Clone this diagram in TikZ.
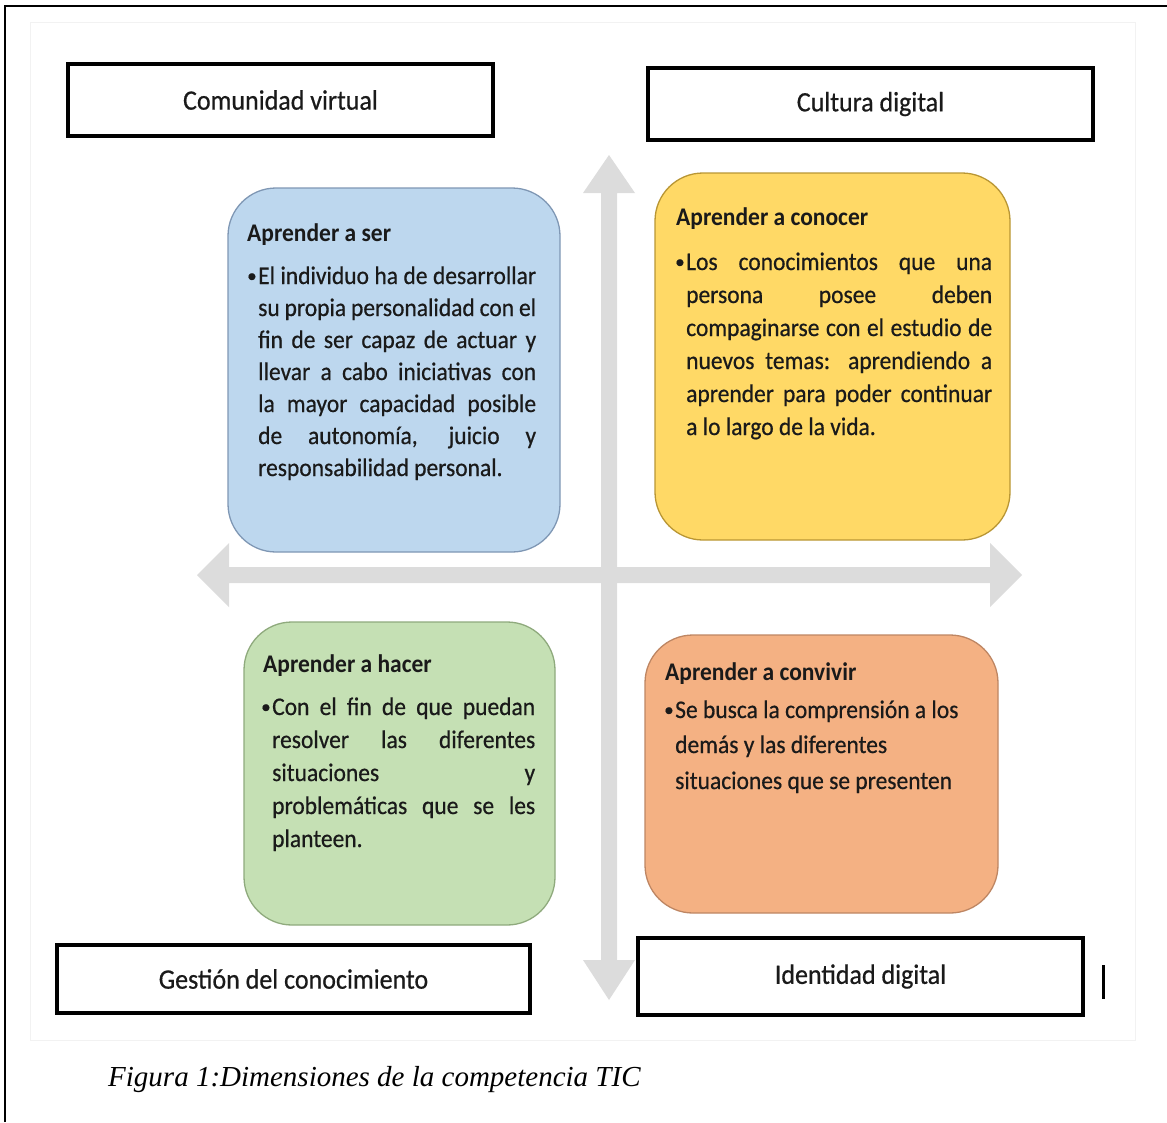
\documentclass[tikz,border=0pt]{standalone}
\usepackage{fontspec}
\setmainfont{Carlito}
\newfontfamily\bodyfont{Carlito}[RawFeature={embolden=0.6}]
\newfontfamily\capfont{Liberation Serif}
\definecolor{cblue}{HTML}{BDD7EE}
\definecolor{bblue}{HTML}{7F97B4}
\definecolor{cyel}{HTML}{FFD966}
\definecolor{byel}{HTML}{B99634}
\definecolor{cgreen}{HTML}{C5E0B4}
\definecolor{bgreen}{HTML}{8FAA7D}
\definecolor{corange}{HTML}{F4B183}
\definecolor{borange}{HTML}{BE8663}
\definecolor{arrowgray}{HTML}{DCDCDC}
\definecolor{txt}{HTML}{1A1A1A}
\newcommand\tall[1]{\scalebox{1}[1.08]{#1}}
\newcommand\jl[2]{\tall{\makebox[#1][s]{#2}}}
\tikzset{
  labelbox/.style={draw=black, line width=4.5pt, fill=white, inner sep=0pt,
    font=\bodyfont\fontsize{26}{30}\selectfont, text=txt},
  rbox/.style={rounded corners=48pt, line width=1.3pt, inner sep=0pt},
  body/.style={font=\bodyfont\fontsize{23.5}{28}\selectfont, inner sep=0pt, text=txt, anchor=base west},
  bul/.style={font=\bodyfont\fontsize{19}{24}\selectfont, inner sep=0pt, text=txt, anchor=base west},
  ttl/.style={font=\bfseries\fontsize{23.5}{28}\selectfont, inner sep=0pt, text=txt, anchor=base west},
}
\begin{document}
\begin{tikzpicture}[x=1pt,y=-1pt]
\useasboundingbox (0,0) rectangle (1167,1122);
% faint screenshot edge
\draw[black!5, line width=0.8pt] (30,22) rectangle (1135,1040);
% outer frame
\draw[line width=2.5pt] (5,1122) -- (5,6) -- (1167,6);

% axes
\fill[arrowgray] (609,155) -- (635,193) -- (617,193) -- (617,960) -- (635,960)
  -- (609,1000) -- (583,960) -- (601,960) -- (601,193) -- (583,193) -- cycle;
\fill[arrowgray] (197,575) -- (229,543) -- (229,567) -- (990,567) -- (990,543)
  -- (1022,575) -- (990,607) -- (990,583) -- (229,583) -- (229,607) -- cycle;

% label boxes
\node[labelbox, minimum width=425pt, minimum height=72pt] (cv) at (280.5,100) {\tall{Comunidad virtual}};
\node[labelbox, minimum width=445pt, minimum height=72pt] (cd) at (870.5,104) {\tall{Cultura digital}};
\node[labelbox, minimum width=473pt, minimum height=68pt] (gc) at (293.5,979) {\tall{Gestión del conocimiento}};
\node[labelbox, minimum width=445pt, minimum height=77pt] (id) at (860.5,976.5) {\tall{Identidad digital}};
\fill[black] (1101.5,965) rectangle (1104.5,999);

% rounded boxes
\node[rbox, draw=bblue, fill=cblue, minimum width=332pt, minimum height=364pt] (ser) at (394,370) {};
\node[rbox, draw=byel, fill=cyel, minimum width=355pt, minimum height=367pt] (con) at (832.5,356.5) {};
\node[rbox, draw=bgreen, fill=cgreen, minimum width=311pt, minimum height=303pt] (hac) at (399.5,773.5) {};
\node[rbox, draw=borange, fill=corange, minimum width=353pt, minimum height=278pt] (conv) at (821.5,774) {};

% Aprender a ser
\node[ttl] (sert) at (247,241) {\tall{Aprender a ser}};
\node[bul] (serb) at (247,282) {•};
\node[body] (ser1) at (258,284) {\jl{278pt}{El individuo ha de desarrollar}};
\node[body] (ser2) at (258,316) {\jl{278pt}{su propia personalidad con el}};
\node[body] (ser3) at (258,348) {\jl{278pt}{fin de ser capaz de actuar y}};
\node[body] (ser4) at (258,380) {\jl{278pt}{llevar a cabo iniciativas con}};
\node[body] (ser5) at (258,412) {\jl{278pt}{la mayor capacidad posible}};
\node[body] (ser6) at (258,444) {\jl{278pt}{de autonomía, juicio y}};
\node[body] (ser7) at (258,476) {\tall{responsabilidad personal.}};

% Aprender a conocer
\node[ttl] (cont) at (676,225) {\tall{Aprender a conocer}};
\node[bul] (conb) at (675,268) {•};
\node[body] (con1) at (686,270) {\jl{306pt}{Los conocimientos que una}};
\node[body] (con2) at (686,303) {\jl{306pt}{persona posee deben}};
\node[body] (con3) at (686,336) {\jl{306pt}{compaginarse con el estudio de}};
\node[body] (con4) at (686,369) {\jl{306pt}{nuevos temas: aprendiendo a}};
\node[body] (con5) at (686,402) {\jl{306pt}{aprender para poder continuar}};
\node[body] (con6) at (686,435) {\tall{a lo largo de la vida.}};

% Aprender a hacer
\node[ttl] (hact) at (263,672) {\tall{Aprender a hacer}};
\node[bul] (hacb) at (261,713) {•};
\node[body] (hac1) at (272,715) {\jl{263pt}{Con el fin de que puedan}};
\node[body] (hac2) at (272,748) {\jl{263pt}{resolver las diferentes}};
\node[body] (hac3) at (272,781) {\jl{263pt}{situaciones y}};
\node[body] (hac4) at (272,814) {\jl{263pt}{problemáticas que se les}};
\node[body] (hac5) at (272,847) {\tall{planteen.}};

% Aprender a convivir
\node[ttl] (convt) at (665,680) {\tall{Aprender a convivir}};
\node[bul] (convb) at (664,716) {•};
\node[body] (conv1) at (675,718) {\tall{Se busca la comprensión a los}};
\node[body] (conv2) at (675,753) {\tall{demás y las diferentes}};
\node[body] (conv3) at (675,789) {\tall{situaciones que se presenten}};

% caption
\node[anchor=base west, inner sep=0pt, font=\capfont\itshape\fontsize{29}{34}\selectfont] (cap) at (108,1086)
  {Figura 1:Dimensiones de la competencia TIC};
\end{tikzpicture}
\end{document}
